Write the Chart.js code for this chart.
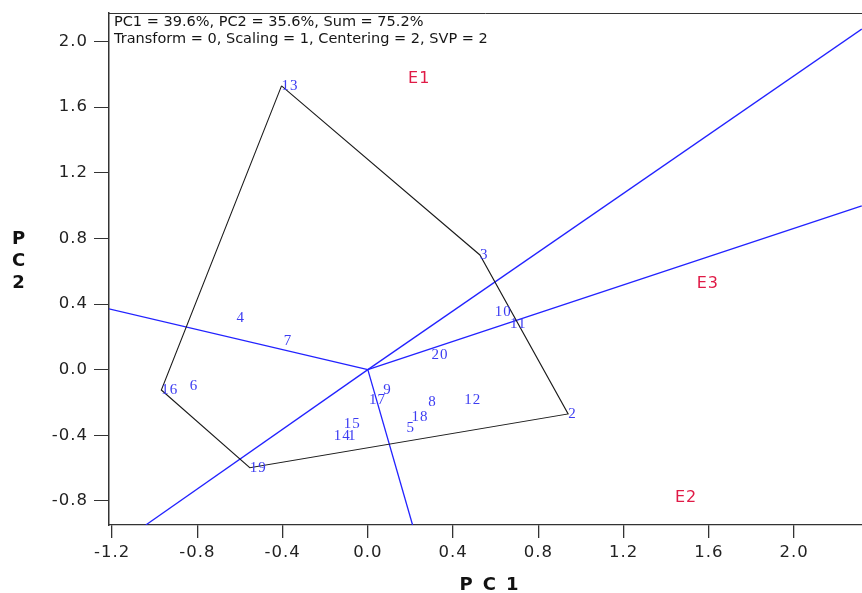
<!DOCTYPE html>
<html><head><meta charset="utf-8">
<script src="https://cdn.jsdelivr.net/npm/chart.js@4"></script>
<style>html,body{margin:0;padding:0;background:#fff;overflow:hidden}canvas{display:block}</style>
</head><body>
<canvas id="c" width="862" height="593"></canvas>
<script>
// ---- data ----
const genotypes = ['1','2','3','4','5','6','7','8','9','10','11','12','13','14','15','16','17','18','19','20'];
const genoPC1 = [-0.093, 0.940, 0.526, -0.616, 0.182, -0.836, -0.394, 0.283, 0.072, 0.596, 0.667, 0.452, -0.405, -0.160, -0.113, -0.969, 0.006, 0.205, -0.554, 0.299];
const genoPC2 = [-0.402, -0.270, 0.699, 0.317, -0.351, -0.099, 0.179, -0.197, -0.120, 0.354, 0.283, -0.185, 1.730, -0.400, -0.331, -0.124, -0.180, -0.287, -0.598, 0.090];
const envNames = ['E1','E2','E3'];
const envPC1 = [0.189, 1.441, 1.543];
const envPC2 = [1.771, -0.780, 0.524];
const hullOrder = ['13','3','2','19','16','13'];
const rayEndPC1 = [2.318, -1.042, 2.318, -1.215, 0.210];
const rayEndPC2 = [2.076, -0.947, 0.998, 0.371, -0.947];
const xTickValues = [-1.2, -0.8, -0.4, 0.0, 0.4, 0.8, 1.2, 1.6, 2.0];
const yTickValues = [-0.8, -0.4, 0.0, 0.4, 0.8, 1.2, 1.6, 2.0];
const headerLines = ['PC1 = 39.6%, PC2 = 35.6%, Sum = 75.2%', 'Transform = 0, Scaling = 1, Centering = 2, SVP = 2'];
const xTitle = 'PC1';
const yTitle = ['P', 'C', '2'];

// ---- build datasets ----
const idx = g => genotypes.indexOf(g);
const datasets = [];
datasets.push({
  label: 'polygon',
  data: hullOrder.map(g => ({x: genoPC1[idx(g)], y: genoPC2[idx(g)]})),
  showLine: true, borderColor: '#1c1c1c', borderWidth: 1.1, pointRadius: 0, fill: false, tension: 0
});
rayEndPC1.forEach((ex, i) => {
  datasets.push({
    label: 'ray' + i,
    data: [{x: 0, y: 0}, {x: ex, y: rayEndPC2[i]}],
    showLine: true, borderColor: '#2222ff', borderWidth: 1.3, pointRadius: 0, fill: false, tension: 0
  });
});
const GENO_DS = datasets.length;
datasets.push({
  label: 'genotypes',
  data: genotypes.map((g, i) => ({x: genoPC1[i], y: genoPC2[i]})),
  pointRadius: 0, showLine: false
});
const ENV_DS = datasets.length;
datasets.push({
  label: 'environments',
  data: envNames.map((e, i) => ({x: envPC1[i], y: envPC2[i]})),
  pointRadius: 0, showLine: false
});

const spacingPlugin = {
  id: 'spacing',
  beforeDraw(chart) { chart.ctx.letterSpacing = '1px'; }
};

const labelPlugin = {
  id: 'labels',
  afterDatasetsDraw(chart) {
    const ctx = chart.ctx;
    ctx.save();
    ctx.textAlign = 'left';
    ctx.textBaseline = 'middle';
    ctx.letterSpacing = '1px';
    ctx.font = '15px "Liberation Serif"';
    ctx.fillStyle = '#3c3cf2';
    chart.getDatasetMeta(GENO_DS).data.forEach((el, i) => ctx.fillText(genotypes[i], el.x, el.y + 0.5));
    ctx.letterSpacing = '1px';
    ctx.font = '16px "DejaVu Sans"';
    ctx.fillStyle = '#e01a46';
    chart.getDatasetMeta(ENV_DS).data.forEach((el, i) => ctx.fillText(envNames[i], el.x, el.y));
    ctx.restore();
  },
  afterDraw(chart) {
    const ctx = chart.ctx;
    const a = chart.chartArea;
    ctx.save();
    // top frame line
    ctx.strokeStyle = '#333';
    ctx.lineWidth = 1;
    ctx.beginPath();
    ctx.moveTo(a.left, Math.round(a.top) + 0.5);
    ctx.lineTo(a.right, Math.round(a.top) + 0.5);
    ctx.stroke();
    // header
    ctx.letterSpacing = '0px';
    ctx.font = '14.5px "DejaVu Sans"';
    ctx.fillStyle = '#151515';
    ctx.textAlign = 'left';
    ctx.textBaseline = 'middle';
    headerLines.forEach((t, i) => ctx.fillText(t, a.left + 5, a.top + 10 + i * 16.7));
    // axis titles
    ctx.font = 'bold 18px "DejaVu Sans"';
    ctx.fillStyle = '#111';
    ctx.letterSpacing = '10px';
    const w = ctx.measureText(xTitle).width - 10;
    ctx.fillText(xTitle, (a.left + a.right) / 2 + 3.5 - w / 2, a.bottom + 60);
    ctx.letterSpacing = '0px';
    ctx.textAlign = 'center';
    const mid = (a.top + a.bottom) / 2;
    yTitle.forEach((t, i) => ctx.fillText(t, 18.5, mid - 29 + i * 22));
    ctx.restore();
  }
};

new Chart(document.getElementById('c'), {
  type: 'scatter',
  data: {datasets},
  options: {
    responsive: false,
    animation: false,
    layout: {padding: {top: 12.5, right: 0, left: 0, bottom: 0}},
    plugins: {legend: {display: false}, tooltip: {enabled: false}},
    scales: {
      x: {
        type: 'linear', min: -1.2146, max: 2.319,
        afterBuildTicks: s => { s.ticks = xTickValues.map(v => ({value: v})); },
        afterFit: s => { s.height = 68; s.paddingLeft = 0; s.paddingRight = 0; },
        ticks: {callback: v => v.toFixed(1), color: '#222', font: {family: 'DejaVu Sans', size: 16.5}, padding: 5, maxRotation: 0, autoSkip: false},
        grid: {drawOnChartArea: false, drawTicks: true, tickLength: 13, color: '#333', lineWidth: 1.3},
        border: {display: true, color: '#333', width: 1.2}
      },
      y: {
        type: 'linear', min: -0.947, max: 2.177,
        afterBuildTicks: s => { s.ticks = yTickValues.map(v => ({value: v})); },
        afterFit: s => { s.width = 109; s.paddingTop = 0; s.paddingBottom = 0; },
        ticks: {callback: v => v.toFixed(1), color: '#222', font: {family: 'DejaVu Sans', size: 16.5}, padding: 6, autoSkip: false},
        grid: {drawOnChartArea: false, drawTicks: true, tickLength: 15, color: '#333', lineWidth: 1},
        border: {display: true, color: '#333', width: 1.5}
      }
    }
  },
  plugins: [spacingPlugin, labelPlugin]
});
</script>
</body></html>
